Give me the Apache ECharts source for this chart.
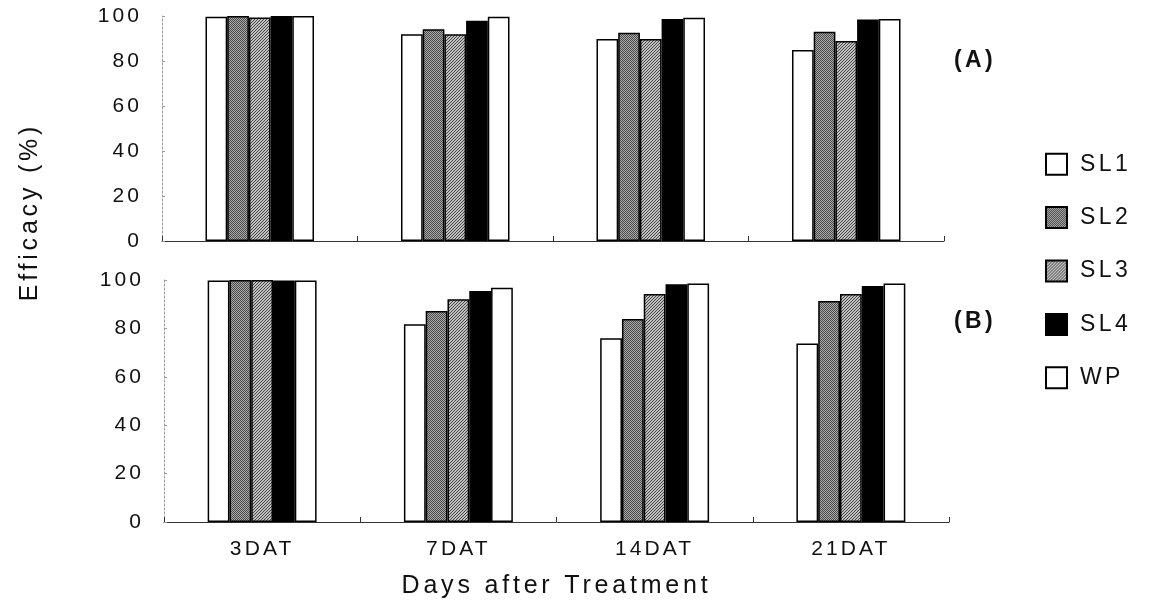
<!DOCTYPE html>
<html><head><meta charset="utf-8">
<script src="https://cdn.jsdelivr.net/npm/echarts@6/dist/echarts.min.js"></script>
<style>html,body{margin:0;padding:0;background:#fff}#c{width:1169px;height:605px}</style>
</head><body><div id="c"></div>
<script>
const categories = ['3DAT', '7DAT', '14DAT', '21DAT'];
const seriesNames = ['SL1', 'SL2', 'SL3', 'SL4', 'WP'];
// Panel (A)
const panelA_SL1 = [99.7, 91.9, 89.8, 84.9];
const panelA_SL2 = [100, 94.1, 92.6, 93.0];
const panelA_SL3 = [99.3, 91.9, 89.8, 88.9];
const panelA_SL4 = [100, 97.9, 98.7, 98.5];
const panelA_WP  = [100, 99.7, 99.2, 98.7];
// Panel (B)
const panelB_SL1 = [99.8, 81.7, 75.9, 73.8];
const panelB_SL2 = [100, 87.2, 83.9, 91.3];
const panelB_SL3 = [100, 92.0, 94.2, 94.2];
const panelB_SL4 = [99.8, 95.5, 98.2, 97.5];
const panelB_WP  = [99.8, 96.8, 98.6, 98.6];

// Widen text a little (the reference uses letter-spaced type).
(function () {
  const proto = CanvasRenderingContext2D.prototype;
  const desc = Object.getOwnPropertyDescriptor(proto, 'font');
  if (!desc || !('letterSpacing' in proto)) return;
  Object.defineProperty(proto, 'font', {
    configurable: true, enumerable: desc.enumerable,
    get: function () { return desc.get.call(this); },
    set: function (v) {
      desc.set.call(this, v);
      const m = /(\d+(?:\.\d+)?)px/.exec(v);
      this.letterSpacing = m ? (parseFloat(m[1]) * 0.15).toFixed(1) + 'px' : '0px';
    }
  });
})();

function pattern(kind) {
  const c = document.createElement('canvas');
  const n = kind === 'dots' ? 2 : 3;
  c.width = n; c.height = n;
  const g = c.getContext('2d');
  g.fillStyle = kind === 'dots' ? '#ababab' : '#c0c0c0';
  g.fillRect(0, 0, n, n);
  g.fillStyle = kind === 'dots' ? '#4a4a4a' : '#454545';
  for (let x = 0; x < n; x++) for (let y = 0; y < n; y++) {
    if (kind === 'dots' ? (x + y) % 2 === 0 : (x + y) % 3 === 0) g.fillRect(x, y, 1, 1);
  }
  return { image: c, repeat: 'repeat' };
}
const fills = ['#ffffff', pattern('dots'), pattern('diag'), '#000000', '#ffffff'];
const dataA = [panelA_SL1, panelA_SL2, panelA_SL3, panelA_SL4, panelA_WP];
const dataB = [panelB_SL1, panelB_SL2, panelB_SL3, panelB_SL4, panelB_WP];
const FONT = '"Liberation Sans", Arial, sans-serif';

const series = [];
seriesNames.forEach((name, i) => {
  const style = { color: fills[i], borderColor: '#000', borderWidth: 1.5 };
  series.push({ name, type: 'bar', xAxisIndex: 0, yAxisIndex: 0, data: dataA[i],
    barGap: '0%', barCategoryGap: '44.5%', itemStyle: style, silent: true });
  series.push({ name, type: 'bar', xAxisIndex: 1, yAxisIndex: 1, data: dataB[i],
    barGap: '0%', barCategoryGap: '44.5%', itemStyle: style, silent: true });
});

const yAxisCommon = (gi) => ({
  gridIndex: gi, type: 'value', min: 0, max: 100, interval: 20,
  axisLine: { show: true, lineStyle: { color: '#9a9a9a', width: 1, type: [2, 2] } },
  axisTick: { show: true, inside: true, length: 3, lineStyle: { color: '#9a9a9a' } },
  splitLine: { show: false },
  axisLabel: { fontSize: 21, color: '#111', fontFamily: FONT, margin: 20 }
});

const chart = echarts.init(document.getElementById('c'), null, { renderer: 'canvas' });
chart.setOption({
  animation: false,
  backgroundColor: '#fff',
  grid: [
    { left: 162, right: 225, top: 16, height: 225 },
    { left: 164, right: 220, top: 280, height: 242 }
  ],
  xAxis: [
    { gridIndex: 0, type: 'category', data: categories,
      axisLine: { lineStyle: { color: '#333', width: 1 } },
      axisTick: { show: true, inside: true, length: 5, lineStyle: { color: '#333' } },
      axisLabel: { show: false } },
    { gridIndex: 1, type: 'category', data: categories,
      axisLine: { lineStyle: { color: '#333', width: 1 } },
      axisTick: { show: true, inside: true, length: 5, lineStyle: { color: '#333' } },
      axisLabel: { fontSize: 21, color: '#111', fontFamily: FONT, margin: 15 },
      name: 'Days after Treatment', nameLocation: 'middle', nameGap: 50,
      nameTextStyle: { fontSize: 25, color: '#111', fontFamily: FONT } }
  ],
  yAxis: [yAxisCommon(0), yAxisCommon(1)],
  legend: {
    data: seriesNames, orient: 'vertical', left: 1040, top: 146,
    itemWidth: 21, itemHeight: 21, itemGap: 27, icon: 'rect',
    textStyle: { fontSize: 23, color: '#111', fontFamily: FONT, padding: [0, 0, 0, 8] },
    selectedMode: false
  },
  graphic: [
    { type: 'text', x: 30, y: 212, rotation: Math.PI / 2,
      style: { text: 'Efficacy (%)', font: '25px ' + FONT, fill: '#111', textAlign: 'center', textVerticalAlign: 'middle' } },
    { type: 'text', x: 975, y: 61,
      style: { text: '(A)', font: 'bold 23px ' + FONT, fill: '#111', textAlign: 'center', textVerticalAlign: 'middle' } },
    { type: 'text', x: 975, y: 322,
      style: { text: '(B)', font: 'bold 23px ' + FONT, fill: '#111', textAlign: 'center', textVerticalAlign: 'middle' } }
  ],
  series
});
</script></body></html>
